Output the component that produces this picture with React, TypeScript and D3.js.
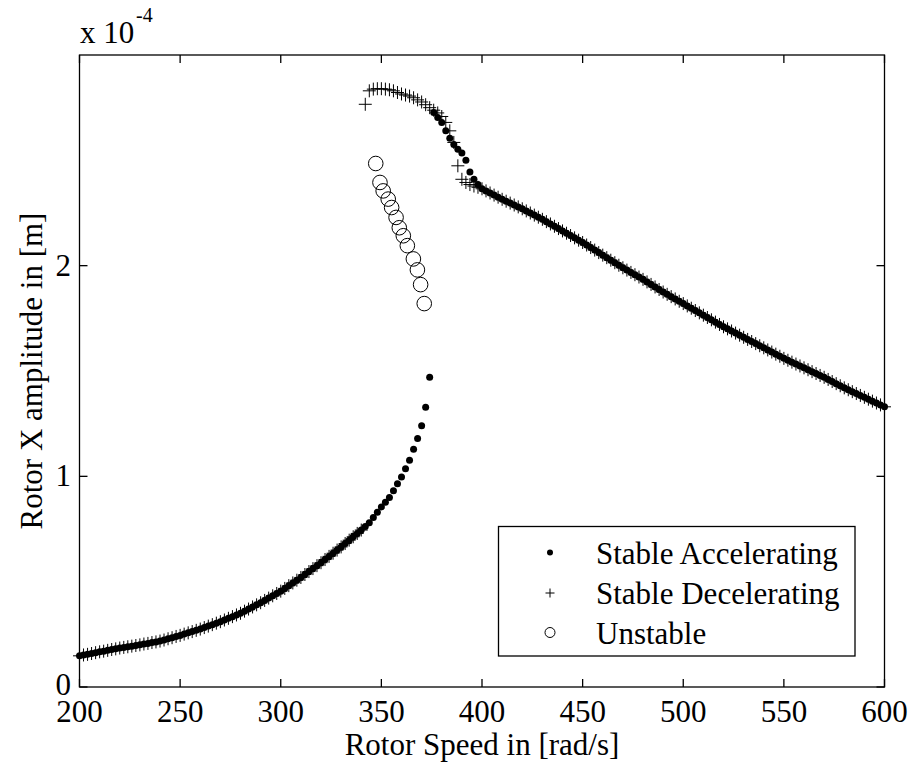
import React from "react";
import * as d3 from "d3";

// Rotor speed sweep: lower (pre-jump) branch, shared by both sweeps
const lowerSpeed = [
  200, 202, 204, 206, 208, 210, 212, 214, 216, 218, 220, 222, 224, 226, 228, 230,
  232, 234, 236, 238, 240, 242, 244, 246, 248, 250, 252, 254, 256, 258, 260, 262,
  264, 266, 268, 270, 272, 274, 276, 278, 280, 282, 284, 286, 288, 290, 292, 294,
  296, 298, 300, 302, 304, 306, 308, 310, 312, 314, 316, 318, 320, 322, 324, 326,
  328, 330, 332, 334, 336, 338, 340, 342, 344, 346, 348, 350, 352, 354, 356, 358,
  360, 362, 364, 366, 368, 370, 372, 374,
];
// amplitudes in units of 1e-4 m
const lowerAmp = [
  0.148, 0.152, 0.155, 0.159, 0.163, 0.167, 0.17, 0.174, 0.178, 0.181, 0.185, 0.188,
  0.191, 0.194, 0.197, 0.2, 0.204, 0.207, 0.211, 0.214, 0.218, 0.223, 0.229, 0.234,
  0.24, 0.245, 0.251, 0.257, 0.263, 0.269, 0.275, 0.282, 0.289, 0.296, 0.303, 0.31,
  0.318, 0.326, 0.334, 0.342, 0.35, 0.36, 0.37, 0.38, 0.39, 0.4, 0.411, 0.422, 0.433,
  0.444, 0.455, 0.468, 0.481, 0.494, 0.507, 0.52, 0.534, 0.548, 0.562, 0.576, 0.59,
  0.605, 0.62, 0.635, 0.65, 0.665, 0.681, 0.697, 0.713, 0.729, 0.745, 0.762, 0.78,
  0.805, 0.83, 0.855, 0.877, 0.9, 0.932, 0.965, 0.997, 1.036, 1.076, 1.128, 1.18,
  1.24, 1.328, 1.47,
];

// Accelerating sweep just after the jump up
const accelJumpSpeed = [376, 378, 380, 382, 384, 386, 388, 390, 392, 394, 396, 398];
const accelJumpAmp = [
  2.727, 2.703, 2.68, 2.64, 2.605, 2.575, 2.553, 2.535, 2.5, 2.445, 2.41, 2.385,
];

// Upper (post-jump) branch, shared by both sweeps
const upperSpeed = [
  400, 402, 404, 406, 408, 410, 412, 414, 416, 418, 420, 422, 424, 426, 428, 430,
  432, 434, 436, 438, 440, 442, 444, 446, 448, 450, 452, 454, 456, 458, 460, 462,
  464, 466, 468, 470, 472, 474, 476, 478, 480, 482, 484, 486, 488, 490, 492, 494,
  496, 498, 500, 502, 504, 506, 508, 510, 512, 514, 516, 518, 520, 522, 524, 526,
  528, 530, 532, 534, 536, 538, 540, 542, 544, 546, 548, 550, 552, 554, 556, 558,
  560, 562, 564, 566, 568, 570, 572, 574, 576, 578, 580, 582, 584, 586, 588, 590,
  592, 594, 596, 598, 600,
];
const upperAmp = [
  2.365, 2.355, 2.345, 2.335, 2.325, 2.315, 2.306, 2.297, 2.288, 2.279, 2.27, 2.26,
  2.25, 2.24, 2.23, 2.22, 2.209, 2.198, 2.187, 2.176, 2.165, 2.154, 2.143, 2.132,
  2.121, 2.11, 2.098, 2.086, 2.074, 2.062, 2.05, 2.038, 2.026, 2.014, 2.002, 1.99,
  1.979, 1.968, 1.957, 1.946, 1.935, 1.923, 1.911, 1.899, 1.887, 1.875, 1.864, 1.853,
  1.842, 1.831, 1.82, 1.809, 1.798, 1.787, 1.776, 1.765, 1.754, 1.743, 1.732, 1.721,
  1.71, 1.7, 1.69, 1.68, 1.67, 1.66, 1.65, 1.64, 1.63, 1.62, 1.61, 1.6, 1.59, 1.58,
  1.57, 1.56, 1.551, 1.542, 1.533, 1.524, 1.515, 1.506, 1.497, 1.488, 1.479, 1.47,
  1.46, 1.45, 1.44, 1.43, 1.42, 1.411, 1.402, 1.393, 1.384, 1.375, 1.366, 1.357,
  1.348, 1.339, 1.33,
];

// Decelerating sweep over the resonance peak before the jump down
const decelPeakSpeed = [
  342, 344, 346, 348, 350, 352, 354, 356, 358, 360, 362, 364, 366, 368, 370, 372,
  374, 376, 378, 380, 382, 384, 386, 388, 390, 392, 394, 396, 398,
];
const decelPeakAmp = [
  2.766, 2.83, 2.838, 2.84, 2.84, 2.838, 2.835, 2.83, 2.822, 2.815, 2.81, 2.805,
  2.797, 2.787, 2.777, 2.764, 2.75, 2.738, 2.725, 2.708, 2.68, 2.64, 2.585, 2.474,
  2.41, 2.395, 2.385, 2.378, 2.372,
];

// Unstable middle branch
const unstableSpeed = [
  347.2, 349.3, 350.9, 353.4, 355.1, 357.3, 358.9, 360.9, 362.9, 365.9, 367.9, 369.5,
  371.3,
];
const unstableAmp = [
  2.485, 2.395, 2.355, 2.316, 2.276, 2.229, 2.18, 2.142, 2.095, 2.032, 1.98, 1.91,
  1.82,
];

const xTicks = [200, 250, 300, 350, 400, 450, 500, 550, 600];
const yTicks = [0, 1, 2];
const legendLabels = ["Stable Accelerating", "Stable Decelerating", "Unstable"];

type Pt = { s: number; a: number };
const zip = (s: number[], a: number[]): Pt[] => s.map((v, i) => ({ s: v, a: a[i] }));

const accelerating: Pt[] = [
  ...zip(lowerSpeed, lowerAmp),
  ...zip(accelJumpSpeed, accelJumpAmp),
  ...zip(upperSpeed, upperAmp),
];
const decelerating: Pt[] = [
  ...zip(upperSpeed, upperAmp).reverse(),
  ...zip(decelPeakSpeed, decelPeakAmp).reverse(),
  ...zip(lowerSpeed, lowerAmp).filter((p) => p.s <= 340).reverse(),
];
const unstable: Pt[] = zip(unstableSpeed, unstableAmp);

const W = 913;
const H = 767;
const M = { left: 79.5, right: 884.5, top: 55, bottom: 687 };
const FONT = '"Liberation Serif", "Times New Roman", Times, serif';
const FS = 31;
const TICK = 8;

const plusPath = (x: number, y: number, h: number) =>
  `M${x - h},${y}H${x + h}M${x},${y - h}V${y + h}`;

export default function App() {
  const x = d3.scaleLinear().domain([200, 600]).range([M.left, M.right]);
  const y = d3.scaleLinear().domain([0, 3]).range([M.bottom, M.top]);

  const legendX = 498.5;
  const legendY = 526.5;
  const legendW = 356.5;
  const legendH = 129.5;
  const rowY = [552.5, 593, 632.5];

  return (
    <svg
      width={W}
      height={H}
      viewBox={`0 0 ${W} ${H}`}
      style={{ position: "absolute", left: 0, top: 0, background: "#fff" }}
      fontFamily={FONT}
    >
      <rect x={0} y={0} width={W} height={H} fill="#fff" />

      {/* markers */}
      <g>
        {accelerating.map((p, i) => (
          <circle key={`a${i}`} cx={x(p.s)} cy={y(p.a)} r={3.5} fill="#000" />
        ))}
      </g>
      <g stroke="#000" strokeWidth={1} fill="none">
        {decelerating.map((p, i) => (
          <path key={`d${i}`} d={plusPath(x(p.s), y(p.a), 6.5)} />
        ))}
      </g>
      <g stroke="#000" strokeWidth={1} fill="none">
        {unstable.map((p, i) => (
          <circle key={`u${i}`} cx={x(p.s)} cy={y(p.a)} r={7.3} />
        ))}
      </g>

      {/* axes box and inward ticks */}
      <g stroke="#000" strokeWidth={1.3} fill="none">
        <rect x={M.left} y={M.top} width={M.right - M.left} height={M.bottom - M.top} />
        {xTicks.map((t) => (
          <g key={`xt${t}`}>
            <line x1={x(t)} x2={x(t)} y1={M.bottom} y2={M.bottom - TICK} />
            <line x1={x(t)} x2={x(t)} y1={M.top} y2={M.top + TICK} />
          </g>
        ))}
        {yTicks.map((t) => (
          <g key={`yt${t}`}>
            <line x1={M.left} x2={M.left + TICK} y1={y(t)} y2={y(t)} />
            <line x1={M.right} x2={M.right - TICK} y1={y(t)} y2={y(t)} />
          </g>
        ))}
      </g>

      {/* tick labels */}
      <g fontSize={FS} fill="#000">
        {xTicks.map((t) => (
          <text key={`xl${t}`} x={x(t)} y={722} textAnchor="middle">
            {t}
          </text>
        ))}
        {yTicks.map((t) => (
          <text key={`yl${t}`} x={71} y={y(t) + (t === 0 ? 8 : 10)} textAnchor="end">
            {t}
          </text>
        ))}
      </g>

      {/* exponent */}
      <text x={80} y={43} fontSize={FS} fill="#000">
        x 10
      </text>
      <text x={136} y={22} fontSize={20} fill="#000">
        -4
      </text>

      {/* axis titles */}
      <text
        x={(M.left + M.right) / 2}
        y={755}
        fontSize={FS}
        textAnchor="middle"
        fill="#000"
      >
        Rotor Speed in [rad/s]
      </text>
      <text
        transform={`translate(42,${(M.top + M.bottom) / 2}) rotate(-90)`}
        fontSize={FS}
        textAnchor="middle"
        fill="#000"
      >
        Rotor X amplitude in [m]
      </text>

      {/* legend */}
      <g>
        <rect
          x={legendX}
          y={legendY}
          width={legendW}
          height={legendH}
          fill="#fff"
          stroke="#000"
          strokeWidth={1.3}
        />
        <circle cx={550} cy={rowY[0]} r={3} fill="#000" />
        <path d={plusPath(550, rowY[1], 4.5)} stroke="#000" strokeWidth={1} />
        <circle cx={550} cy={rowY[2]} r={5} fill="none" stroke="#000" strokeWidth={1} />
        {legendLabels.map((l, i) => (
          <text key={l} x={596} y={rowY[i] + 11} fontSize={FS} fill="#000">
            {l}
          </text>
        ))}
      </g>
    </svg>
  );
}
